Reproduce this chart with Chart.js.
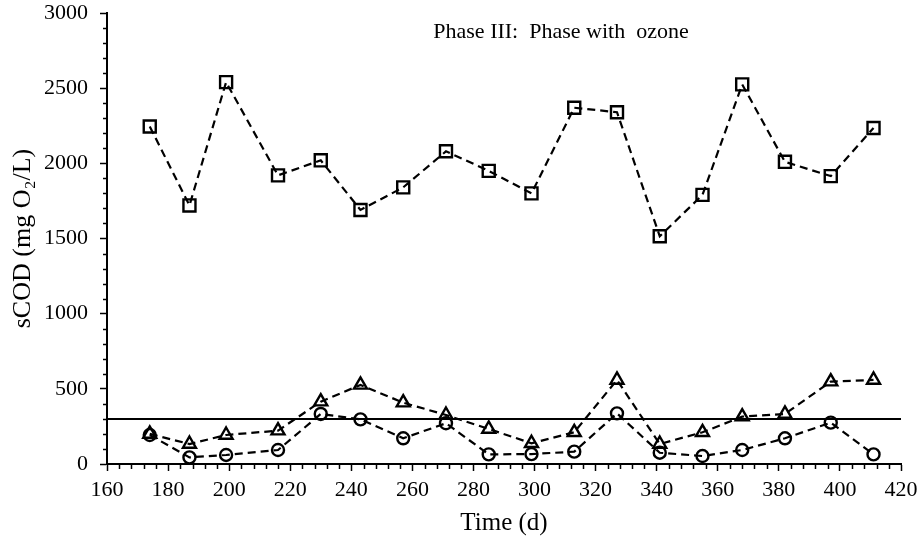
<!DOCTYPE html>
<html>
<head>
<meta charset="utf-8">
<script src="https://cdn.jsdelivr.net/npm/chart.js@4.4.0/dist/chart.umd.min.js"></script>
<style>
  html, body { margin: 0; padding: 0; background: #fff; }
  #wrap { width: 919px; height: 541px; }
</style>
</head>
<body>
<div id="wrap"><canvas id="canvas_scod" width="919" height="541"></canvas></div>
<script>
		// time (d)
		var days = [174, 187, 199, 216, 230, 243, 257, 271, 285, 299, 313, 327, 341, 355, 368, 382, 397, 411];
		// squares
		var scodSquare = [2245, 1720, 2540, 1920, 2020, 1690, 1840, 2080, 1950, 1800, 2370, 2340, 1515, 1790, 2525, 2010, 1915, 2235];
		// triangles
		var scodTriangle = [200, 133, 193, 222, 415, 526, 408, 326, 233, 138, 211, 559, 133, 211, 315, 333, 548, 559];
		// circles
		var scodCircle = [193, 44, 60, 93, 333, 297, 171, 271, 64, 66, 82, 337, 75, 53, 93, 171, 275, 64];
		var limitValue = 300;
		var xRange = [160, 420];
		var yRange = [0, 3000];
		var phaseText = 'Phase III:  Phase with  ozone';
		var serifFont = '"Liberation Serif", "Times New Roman", serif';

		function toPoints(xs, ys) {
			var pts = [];
			for (var i in xs) {
				pts.push({x: xs[i], y: ys[i]});
			}
			return pts;
		}

		function serie(ys, shape, radius) {
			return {
				data: toPoints(days, ys),
				borderColor: '#000',
				borderWidth: 2.2,
				borderDash: [8, 5],
				pointStyle: shape,
				pointRadius: radius,
				pointBorderWidth: 2.4,
				pointBorderColor: '#000',
				pointBackgroundColor: 'rgba(0,0,0,0)',
				fill: false,
				tension: 0
			};
		}

		// minor ticks between the labelled ones + phase text
		var minorTicks = {
			id: 'minorTicks',
			afterDraw: function(chart) {
				var ctx = chart.ctx;
				var sx = chart.scales.x, sy = chart.scales.y;
				var area = chart.chartArea;
				ctx.save();
				ctx.strokeStyle = '#000';
				ctx.lineWidth = 1.5;
				ctx.beginPath();
				for (var v = xRange[0]; v <= xRange[1]; v += 4) {
					if (v % 20 == 0) continue;
					var px = Math.round(sx.getPixelForValue(v)) + 0.5;
					ctx.moveTo(px, area.bottom);
					ctx.lineTo(px, area.bottom + 5);
				}
				for (var w = yRange[0]; w <= yRange[1]; w += 100) {
					if (w % 500 == 0) continue;
					var py = Math.round(sy.getPixelForValue(w)) + 0.5;
					ctx.moveTo(area.left, py);
					ctx.lineTo(area.left - 4, py);
				}
				ctx.stroke();
				ctx.fillStyle = '#000';
				ctx.font = '22px ' + serifFont;
				ctx.textAlign = 'center';
				ctx.textBaseline = 'alphabetic';
				ctx.fillText(phaseText, 561, 38);
				ctx.restore();
			}
		};

		var configScod = {
			type: 'line',
			data: {
				datasets: [
					serie(scodSquare, 'rect', 8.5),
					serie(scodTriangle, 'triangle', 7.5),
					serie(scodCircle, 'circle', 6),
					{
						data: [{x: xRange[0], y: limitValue}, {x: xRange[1], y: limitValue}],
						borderColor: '#000',
						borderWidth: 2,
						pointRadius: 0,
						fill: false
					}
				]
			},
			options: {
				responsive: false,
				animation: false,
				layout: { padding: { top: 13, right: 18, left: 0, bottom: 0 } },
				plugins: {
					legend: { display: false },
					tooltip: { enabled: false },
					title: { display: false }
				},
				scales: {
					x: {
						type: 'linear',
						min: xRange[0],
						max: xRange[1],
						afterFit: function(s) { s.height = 77; s.paddingLeft = 0; s.paddingRight = 0; },
						border: { color: '#000', width: 2 },
						grid: { drawOnChartArea: false, drawTicks: true, tickLength: 7, tickColor: '#000', tickWidth: 1.5 },
						ticks: {
							stepSize: 20,
							autoSkip: false,
							maxRotation: 0,
							padding: 6,
							color: '#000',
							font: { family: serifFont, size: 22 }
						},
						title: {
							display: true,
							text: 'Time (d)',
							color: '#000',
							padding: { top: 0, bottom: 3 },
							font: { family: serifFont, size: 25 }
						}
					},
					y: {
						min: yRange[0],
						max: yRange[1],
						afterFit: function(s) { s.width = 107; s.paddingTop = 0; s.paddingBottom = 0; },
						border: { color: '#000', width: 2 },
						grid: { drawOnChartArea: false, drawTicks: true, tickLength: 7, tickColor: '#000', tickWidth: 1.5 },
						ticks: {
							stepSize: 500,
							padding: 12,
							color: '#000',
							font: { family: serifFont, size: 22 },
							callback: function(v) { return String(v); }
						},
						title: {
							display: true,
							text: 'sCOD (mg O\u2082/L)',
							color: '#000',
							padding: { top: 8, bottom: 0 },
							font: { family: serifFont, size: 26 }
						}
					}
				}
			},
			plugins: [minorTicks]
		};

		var ctx_scod = document.getElementById('canvas_scod').getContext('2d');
		new Chart(ctx_scod, configScod);
</script>
</body>
</html>
